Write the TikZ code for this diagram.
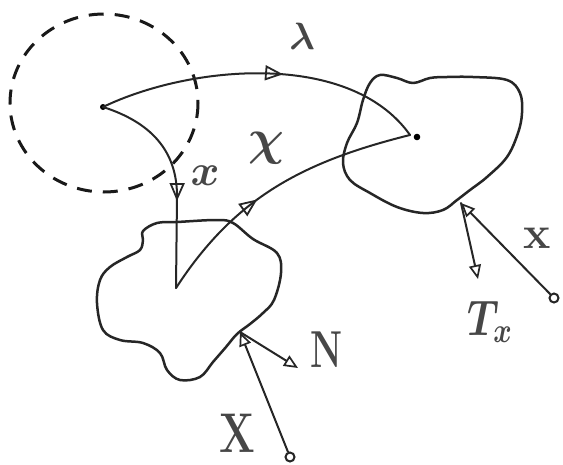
\RequirePackage{fix-cm}
\documentclass[tikz,border=0pt]{standalone}
\usetikzlibrary{arrows.meta,decorations.markings}
\begin{document}
\begin{tikzpicture}[x=1pt,y=-1pt,
  ink/.style={draw=black!85,line width=2pt,line cap=round,line join=round},
  blob/.style={ink,line width=2.5pt},
  dashedcirc/.style={draw=black!90,line width=3pt,dash pattern=on 15pt off 11pt},
  midarrow/.style={postaction={decorate},decoration={markings,
     mark=at position #1 with {\arrow[line width=1.8pt]{Triangle[open,length=18pt,width=15pt]}}}},
  headarrow/.style={-{Triangle[open,length=14pt,width=12pt,line width=1.7pt]}},
  lab/.style={text=black!72,inner sep=0pt},
  endcirc/.style={circle,draw=black!85,line width=2pt,fill=white,minimum size=9pt,inner sep=0pt}]
\useasboundingbox (0,0) rectangle (563,464);
\fill[white] (0,0) rectangle (563,464);

% dashed circle
\draw[dashedcirc] (104,103) ellipse [x radius=94, y radius=89];

% lower blob
\draw[blob] plot[smooth cycle,tension=0.6] coordinates {
 (143,231) (157,223) (177,222) (217,220) (233,223) (253,239) (277,253) (281,273)
 (274,300) (263,313) (250,324) (237,334) (226,347) (213,362) (200,377) (180,380)
 (167,370) (160,353) (143,343) (120,340) (103,330) (97,303) (100,280) (110,267)
 (127,257) (140,250) (143,240)};

% right blob
\draw[blob] plot[smooth cycle,tension=0.6] coordinates {
 (380,75) (397,78) (413,83) (430,78) (447,77) (473,77) (507,80) (520,93) (522,113)
 (518,133) (507,157) (487,177) (470,190) (457,200) (443,210) (423,213) (397,207)
 (370,193) (350,180) (343,163) (347,143) (357,123) (363,100) (370,83)};

% points
\coordinate (P) at (103,107);
\coordinate (Q) at (410,135);
\coordinate (R) at (176,288);
\coordinate (Xa) at (177,196);
\fill[black] (P) circle (3pt);
\fill[black] (417,137) circle (3.3pt);

% lambda: P -> Q
\draw[ink,midarrow=0.56] (P) .. controls (190,65) and (350,50) .. (Q);
% chi: R -> Q
\draw[ink,midarrow=0.42] (R) to[out=57,in=194] (Q);
% x: P -> R
\draw[ink,midarrow=0.6] (P) .. controls (150,122) and (177,150) .. (Xa) -- (R);

% forces on lower blob
\coordinate (B1) at (240,332);
\node[endcirc] (c1) at (290,457) {};
\coordinate (N1) at (298,368);
\draw[ink,headarrow] (c1) -- (B1);
\draw[ink,headarrow] (B1) -- (N1);

% forces on right blob
\coordinate (B2) at (461,203);
\node[endcirc] (c2) at (554,298) {};
\coordinate (T1) at (478,279);
\draw[ink,headarrow] (c2) -- (B2);
\draw[ink,headarrow] (B2) -- (T1);

% labels
\node[lab,font=\fontsize{38}{38}\selectfont\boldmath] (lam) at (302,36) {$\lambda$};
\node[lab,font=\fontsize{50}{50}\selectfont\boldmath] (chi) at (266,148) {$\chi$};
\node[lab,font=\fontsize{44}{44}\selectfont\boldmath] (xs) at (205,176) {$x$};
\node[lab,font=\fontsize{52}{52}\selectfont\bfseries,xscale=0.7] (Nl) at (327,350) {N};
\node[lab,font=\fontsize{56}{56}\selectfont\bfseries,xscale=0.75] (Xl) at (237,433) {X};
\node[lab,font=\fontsize{46}{46}\selectfont\bfseries] (xr) at (537,238) {x};
\node[lab,font=\fontsize{50}{50}\selectfont\boldmath,xscale=0.8] (Tl) at (490,322) {$T_x$};
\end{tikzpicture}
\end{document}
